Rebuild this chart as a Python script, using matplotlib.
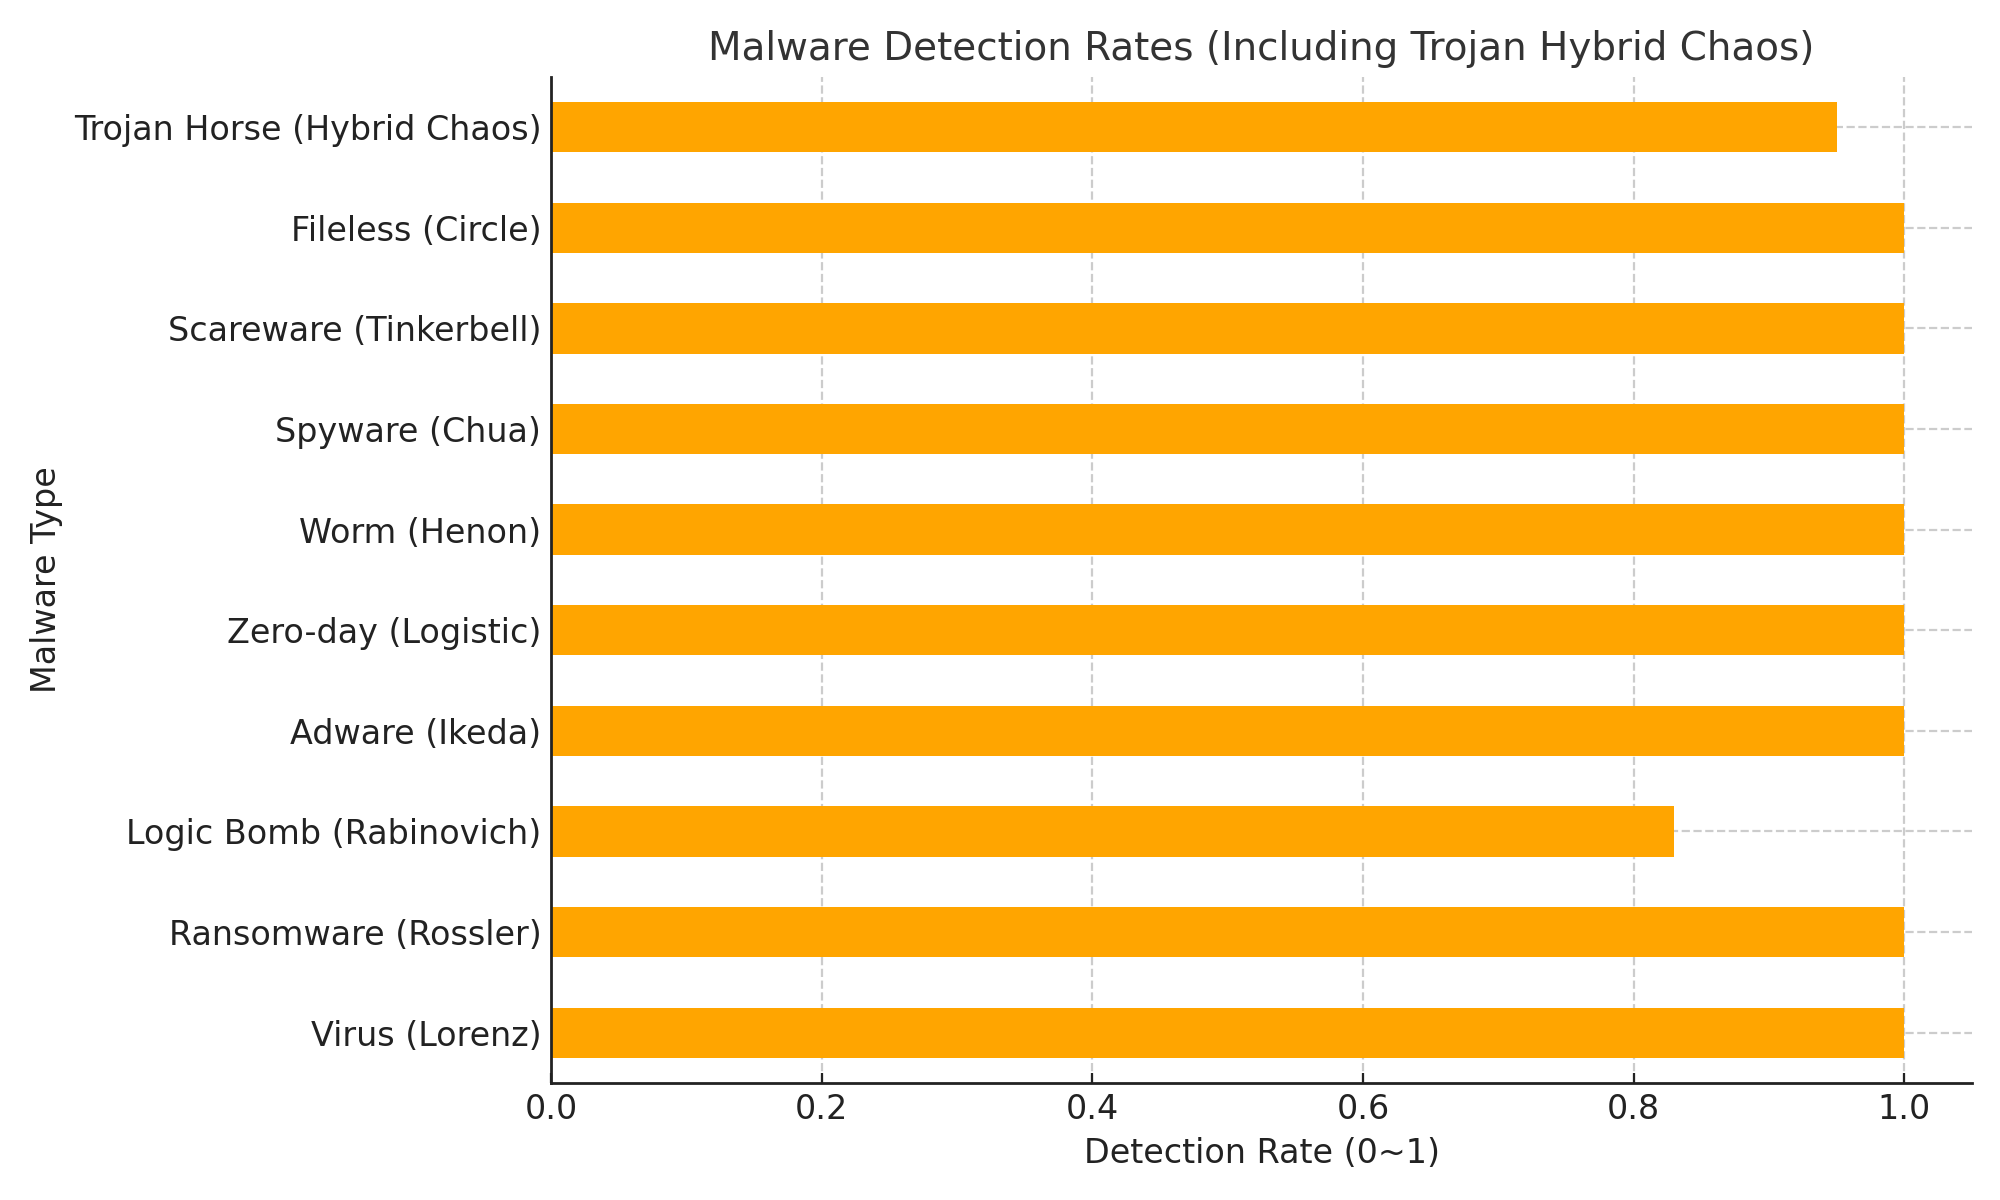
import matplotlib
matplotlib.use("Agg")
import matplotlib.pyplot as plt

# malware types (bottom to top) and their detection rates
malware_types = [
    "Virus (Lorenz)",
    "Ransomware (Rossler)",
    "Logic Bomb (Rabinovich)",
    "Adware (Ikeda)",
    "Zero-day (Logistic)",
    "Worm (Henon)",
    "Spyware (Chua)",
    "Scareware (Tinkerbell)",
    "Fileless (Circle)",
    "Trojan Horse (Hybrid Chaos)",
]
detection_rates = [1.0, 1.0, 0.83, 1.0, 1.0, 1.0, 1.0, 1.0, 1.0, 0.95]

fig, ax = plt.subplots(figsize=(10, 6), dpi=200)
fig.subplots_adjust(left=0.2755, right=0.986, bottom=0.0975, top=0.936)

ax.barh(range(len(malware_types)), detection_rates, height=0.5, color="#FFA500", zorder=2)
ax.set_yticks(range(len(malware_types)))
ax.set_yticklabels(malware_types)
ax.set_ylim(-0.5, len(malware_types) - 0.5)
ax.set_xlim(0, 1.05)

ax.set_title("Malware Detection Rates (Including Trojan Hybrid Chaos)", fontsize=14, color="#333333")
ax.set_xlabel("Detection Rate (0~1)", fontsize=12, color="#222222")
ax.set_ylabel("Malware Type", fontsize=12, color="#222222")
ax.tick_params(labelsize=12, colors="#222222", direction="in")

ax.grid(True, linestyle="--", color="#cccccc", linewidth=0.8, zorder=0)
ax.set_axisbelow(True)
for side in ["top", "right"]:
    ax.spines[side].set_visible(False)
for side in ["left", "bottom"]:
    ax.spines[side].set_color("#222222")
    ax.spines[side].set_linewidth(1.0)

plt.savefig("out.png", dpi=200)
plt.close()
